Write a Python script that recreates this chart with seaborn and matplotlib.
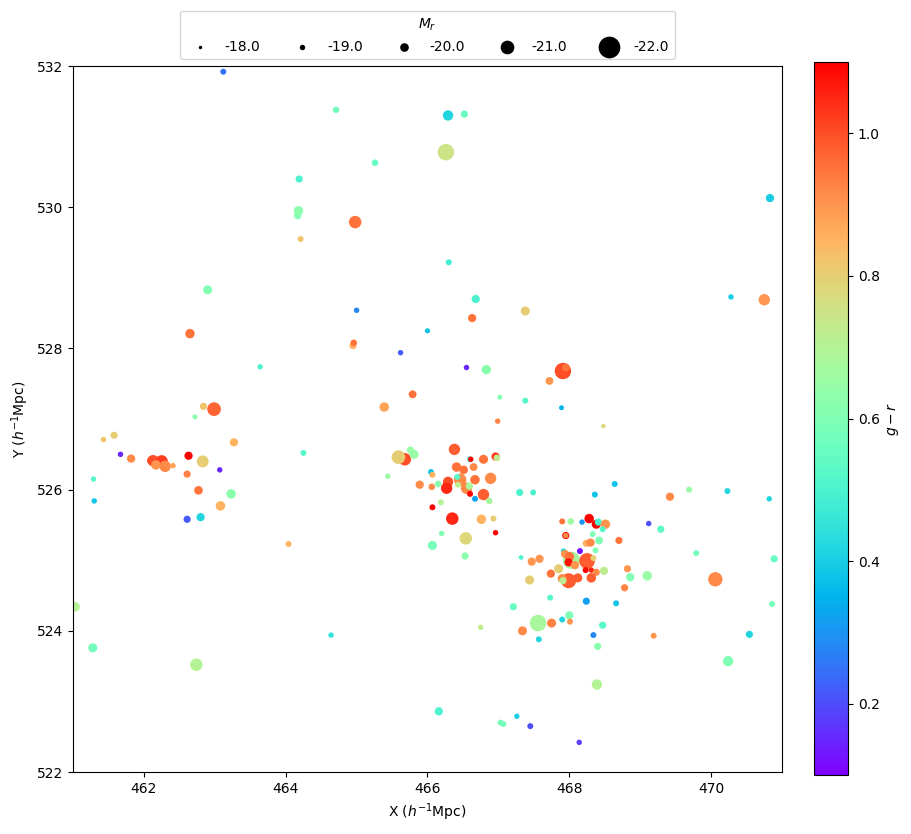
import numpy as np
import pandas as pd
import matplotlib
matplotlib.use("Agg")
import matplotlib.pyplot as plt
import seaborn as sns

# posiciones (h^-1 Mpc), color g-r y magnitud absoluta M_r
x = [463.12, 464.71, 466.29, 466.26, 466.52, 465.26, 464.19, 464.17, 464.18, 464.98,
     464.21, 466.30, 462.90, 465.00, 462.65, 466.00, 464.95, 464.96, 465.62, 463.64,
     465.79, 465.39, 462.84, 462.99, 462.72, 470.83, 466.68, 466.63, 467.38, 470.28,
     470.75, 466.55, 466.83, 467.91, 467.95, 467.72, 467.02, 467.38, 467.89, 466.99,
     468.48,
     461.43, 461.58, 461.67, 461.82, 462.10, 462.13, 462.25, 462.17, 462.30, 462.41,
     462.63, 462.83, 463.07, 463.27, 464.25, 461.29, 461.30, 462.61, 462.77, 463.23,
     463.08, 462.61, 462.80, 464.04, 461.03, 461.28, 462.74, 464.64,
     466.38, 465.68, 465.59, 465.76, 465.81, 466.60, 466.61, 466.79, 466.96, 466.98,
     466.05, 466.07, 465.44, 465.89, 466.06, 466.15, 466.41, 466.51, 466.65, 466.46,
     466.55, 466.67, 466.29, 466.27, 466.89, 466.79, 466.42, 466.43, 466.59, 466.60,
     466.67, 466.87, 466.07, 466.19, 466.35, 466.76, 466.93, 466.96, 466.54, 466.20,
     466.07, 466.53, 467.32, 467.30, 467.49,
     468.36, 468.64, 468.28, 468.38, 468.41, 468.51, 468.47, 467.90, 468.02, 468.18,
     469.12, 469.29, 467.95, 467.95, 468.33, 468.42, 468.24, 468.30, 468.70, 468.37,
     468.03, 467.92, 467.94, 468.00, 467.99, 468.08, 468.25, 468.34, 468.15, 468.23,
     468.31, 468.38, 468.31, 468.49, 468.12, 467.99, 467.90, 467.91, 467.85, 467.74,
     467.47, 467.58, 467.44, 468.82, 468.86, 469.10, 468.78, 467.73, 468.24, 468.66,
     467.21, 467.56, 467.75, 467.90, 468.00, 468.01, 468.47, 467.34, 466.75, 467.57,
     468.34, 468.40, 468.39, 466.16, 467.03, 467.07, 467.26, 467.45, 468.14,
     469.42, 469.69, 470.23, 470.82, 469.79, 470.89, 470.06, 470.86, 469.19, 470.54,
     470.24]

y = [531.92, 531.38, 531.30, 530.78, 531.32, 530.63, 530.40, 529.88, 529.95, 529.79,
     529.55, 529.22, 528.83, 528.54, 528.21, 528.25, 528.04, 528.08, 527.94, 527.74,
     527.35, 527.17, 527.18, 527.14, 527.03, 530.13, 528.70, 528.43, 528.53, 528.73,
     528.69, 527.73, 527.70, 527.68, 527.73, 527.54, 527.31, 527.26, 527.16, 526.97,
     526.90,
     526.71, 526.77, 526.50, 526.44, 526.41, 526.41, 526.40, 526.35, 526.33, 526.34,
     526.48, 526.40, 526.28, 526.67, 526.52, 526.15, 525.84, 526.22, 525.99, 525.94,
     525.77, 525.58, 525.61, 525.23, 524.34, 523.76, 523.52, 523.94,
     526.57, 526.43, 526.46, 526.56, 526.50, 526.43, 526.43, 526.43, 526.47, 526.45,
     526.25, 526.21, 526.19, 526.07, 526.04, 526.08, 526.32, 526.28, 526.32, 526.14,
     526.02, 526.14, 526.11, 526.02, 526.16, 525.93, 526.18, 526.07, 526.05, 525.94,
     525.87, 525.84, 525.75, 525.82, 525.59, 525.58, 525.59, 525.39, 525.31, 525.38,
     525.21, 525.06, 525.04, 525.96, 525.96,
     525.93, 526.08, 525.59, 525.51, 525.54, 525.51, 525.44, 525.55, 525.55, 525.54,
     525.52, 525.44, 525.35, 525.35, 525.37, 525.28, 525.24, 525.25, 525.28, 525.14,
     525.00, 525.13, 525.09, 525.05, 524.97, 524.93, 524.99, 525.03, 525.13, 524.86,
     524.86, 524.83, 524.75, 524.85, 524.75, 524.71, 524.74, 524.71, 524.88, 524.81,
     524.98, 525.02, 524.72, 524.88, 524.76, 524.78, 524.61, 524.47, 524.42, 524.39,
     524.34, 524.11, 524.11, 524.16, 524.22, 524.13, 524.08, 524.00, 524.05, 523.88,
     523.94, 523.78, 523.24, 522.86, 522.70, 522.68, 522.79, 522.65, 522.42,
     525.90, 526.00, 525.98, 525.87, 525.10, 525.02, 524.73, 524.38, 523.93, 523.95,
     523.57]

gr = [0.25, 0.58, 0.42, 0.75, 0.55, 0.55, 0.50, 0.60, 0.62, 0.95,
      0.82, 0.48, 0.60, 0.28, 0.95, 0.38, 0.85, 0.95, 0.22, 0.50,
      0.95, 0.88, 0.82, 0.97, 0.62, 0.40, 0.50, 0.95, 0.80, 0.40,
      0.90, 0.15, 0.62, 1.00, 0.95, 0.90, 0.60, 0.52, 0.35, 0.93,
      0.78,
      0.82, 0.80, 0.15, 0.92, 1.00, 1.00, 1.02, 0.90, 0.92, 0.88,
      1.10, 0.80, 0.15, 0.85, 0.52, 0.52, 0.38, 0.93, 0.95, 0.62,
      0.85, 0.22, 0.42, 0.85, 0.70, 0.58, 0.70, 0.45,
      0.98, 1.00, 0.80, 0.65, 0.65, 0.50, 1.10, 0.95, 1.02, 0.72,
      0.38, 0.85, 0.65, 0.92, 0.92, 0.62, 0.95, 0.95, 0.92, 0.92,
      0.92, 0.95, 1.00, 1.05, 0.92, 0.98, 0.52, 0.72, 0.68, 1.10,
      0.33, 0.68, 1.10, 0.70, 1.05, 0.85, 0.80, 1.10, 0.78, 0.60,
      0.58, 0.62, 0.50, 0.50, 0.50,
      0.38, 0.38, 1.10, 1.10, 0.50, 0.90, 0.52, 0.95, 0.66, 0.30,
      0.20, 0.53, 1.10, 0.92, 0.60, 0.60, 0.85, 0.92, 0.95, 0.60,
      0.68, 0.42, 0.90, 0.95, 1.08, 0.90, 0.98, 0.80, 0.12, 1.10,
      1.05, 0.92, 0.98, 0.72, 0.98, 0.98, 0.92, 0.72, 0.80, 0.95,
      0.90, 0.90, 0.80, 0.90, 0.60, 0.65, 0.93, 0.52, 0.32, 0.38,
      0.55, 0.68, 0.93, 0.42, 0.60, 0.90, 0.52, 0.92, 0.73, 0.42,
      0.28, 0.62, 0.70, 0.50, 0.58, 0.58, 0.40, 0.20, 0.18,
      0.92, 0.65, 0.42, 0.42, 0.58, 0.55, 0.92, 0.58, 0.90, 0.42,
      0.60]

mr = [-19.2, -19.4, -20.4, -21.4, -19.6, -19.4, -19.6, -19.6, -20.2, -20.8,
      -19.2, -19.2, -20.1, -19.0, -20.2, -18.9, -19.6, -19.4, -19.0, -19.0,
      -19.8, -20.2, -19.6, -21.0, -18.8, -19.9, -19.9, -19.9, -20.1, -19.0,
      -20.6, -19.0, -20.2, -21.4, -19.8, -19.8, -18.8, -19.2, -18.8, -19.0,
      -18.6,
      -19.0, -19.6, -19.0, -19.9, -19.8, -20.6, -20.8, -20.2, -20.6, -19.0,
      -19.9, -20.7, -19.0, -19.9, -19.2, -19.0, -19.0, -19.6, -20.0, -20.2,
      -20.2, -19.6, -19.9, -19.2, -20.2, -20.1, -20.8, -19.0,
      -20.6, -20.8, -21.0, -19.6, -20.1, -19.2, -19.0, -20.1, -19.9, -19.4,
      -19.2, -19.2, -19.0, -19.9, -19.4, -19.4, -20.2, -20.0, -19.8, -20.8,
      -20.6, -20.2, -20.4, -20.6, -20.6, -20.6, -19.2, -19.2, -19.6, -19.2,
      -19.2, -19.4, -19.2, -19.2, -20.8, -20.2, -19.2, -19.0, -20.8, -19.0,
      -20.1, -19.6, -18.7, -19.6, -19.2,
      -19.2, -19.2, -20.2, -20.1, -19.6, -20.2, -19.2, -19.2, -19.4, -19.0,
      -19.0, -19.6, -19.6, -19.0, -19.2, -19.8, -19.6, -19.9, -19.6, -19.2,
      -21.5, -19.0, -19.9, -20.2, -19.9, -19.9, -21.3, -19.2, -19.2, -19.2,
      -19.0, -19.6, -20.2, -19.9, -20.1, -21.2, -20.1, -19.6, -20.1, -19.9,
      -19.9, -19.9, -20.1, -19.6, -19.9, -20.2, -19.6, -19.2, -19.6, -19.2,
      -19.6, -21.4, -20.1, -19.2, -19.9, -19.2, -19.6, -20.1, -19.0, -19.2,
      -19.2, -19.6, -20.4, -19.9, -19.2, -19.2, -19.0, -19.2, -19.0,
      -19.9, -19.2, -19.2, -19.0, -19.2, -19.6, -21.1, -19.2, -19.2, -19.6,
      -20.4]

mr_legend = [-18.0, -19.0, -20.0, -21.0, -22.0]

df = pd.DataFrame({"x": x, "y": y, "gr": gr, "mr": mr})
# area del marcador proporcional a la luminosidad
df["lum"] = 10 ** (-0.4 * (df["mr"] + 18))

s0 = 6.13            # area para M_r = -18
lum_max = 10 ** 1.6  # luminosidad relativa de M_r = -22

def area(m):
    return s0 * 10 ** (-0.4 * (m + 18))

#%%
fig = plt.figure(figsize=(9.11, 8.34), dpi=100)
ax = fig.add_axes([0.0801, 0.0743, 0.7783, 0.8465])
cax = fig.add_axes([0.8935, 0.0707, 0.0373, 0.855])

sns.scatterplot(data=df, x="x", y="y", hue="gr", palette="rainbow",
                hue_norm=(0.1, 1.1), size="lum", sizes=(s0, s0 * lum_max),
                size_norm=(1, lum_max), linewidth=0, legend=False, ax=ax)

ax.set_xlim(461, 471)
ax.set_ylim(522, 532)
ax.set_xlabel("X ($h^{-1}$Mpc)")
ax.set_ylabel("Y ($h^{-1}$Mpc)")

sm = plt.cm.ScalarMappable(cmap="rainbow", norm=plt.Normalize(0.1, 1.1))
cb = fig.colorbar(sm, cax=cax)
cb.set_label("$g-r$")

handles = [ax.scatter([], [], s=area(m), color="black", linewidth=0) for m in mr_legend]
ax.legend(handles, [f"{m:.1f}" for m in mr_legend], title="$M_r$", ncol=5,
          loc="lower center", bbox_to_anchor=(0.5, 1.0), scatterpoints=1)

fig.savefig("out.png", dpi=100)
